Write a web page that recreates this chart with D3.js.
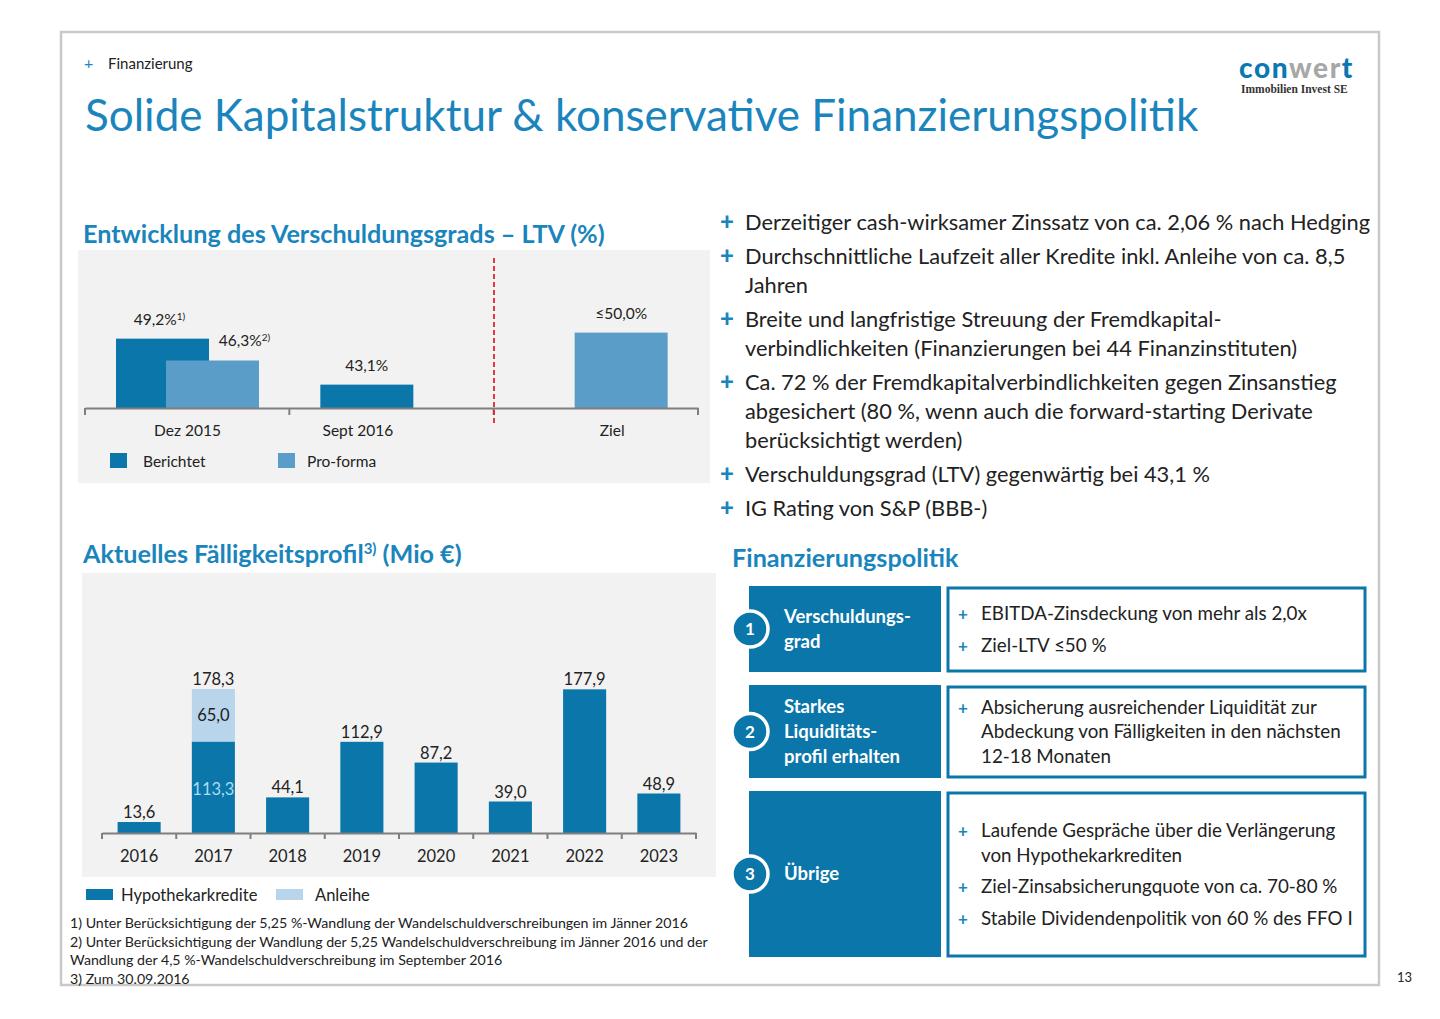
<!DOCTYPE html>
<html>
<head>
<meta charset="utf-8">
<script src="https://cdn.jsdelivr.net/npm/d3@7"></script>
<style>
  body { margin: 0; background: #fff; }
  text { font-family: Lato, "Open Sans", sans-serif; }
</style>
</head>
<body>
<script>
const W = 1440, H = 1019;
const blue = "#1a85bd", dark = "#0b76a9", proforma = "#5b9dc9", anleihe = "#b9d5eb", txt = "#222";

// LTV chart data
const ltvCats = ["Dez 2015", "Sept 2016", "Ziel"];
const ltvSeries = ["Berichtet", "Pro-forma"];
const ltvBerichtet = [49.2, 43.1, null];
const ltvProforma = [46.3, null, 50.0];
const ltvLabels = [["49,2%", "1)"], ["46,3%", "2)"], ["43,1%", ""], ["≤50,0%", ""]];

// maturity profile data
const years = ["2016", "2017", "2018", "2019", "2020", "2021", "2022", "2023"];
const hypo = [13.6, 113.3, 44.1, 112.9, 87.2, 39.0, 177.9, 48.9];
const anl = [0, 65.0, 0, 0, 0, 0, 0, 0];

const bullets = [
  ["Derzeitiger cash-wirksamer Zinssatz von ca. 2,06 % nach Hedging"],
  ["Durchschnittliche Laufzeit aller Kredite inkl. Anleihe von ca. 8,5", "Jahren"],
  ["Breite und langfristige Streuung der Fremdkapital-", "verbindlichkeiten (Finanzierungen bei 44 Finanzinstituten)"],
  ["Ca. 72 % der Fremdkapitalverbindlichkeiten gegen Zinsanstieg", "abgesichert (80 %, wenn auch die forward-starting Derivate", "berücksichtigt werden)"],
  ["Verschuldungsgrad (LTV) gegenwärtig bei 43,1 %"],
  ["IG Rating von S&P (BBB-)"]
];

const policy = [
  {num: "1", head: ["Verschuldungs-", "grad"], items: [["EBITDA-Zinsdeckung von mehr als 2,0x"], ["Ziel-LTV ≤50 %"]]},
  {num: "2", head: ["Starkes", "Liquiditäts-", "profil erhalten"], items: [["Absicherung ausreichender Liquidität zur", "Abdeckung von Fälligkeiten in den nächsten", "12-18 Monaten"]]},
  {num: "3", head: ["Übrige"], items: [["Laufende Gespräche über die Verlängerung", "von Hypothekarkrediten"], ["Ziel-Zinsabsicherungquote von ca. 70-80 %"], ["Stabile Dividendenpolitik von 60 % des FFO I"]]}
];

const footnotes = [
  "1) Unter Berücksichtigung der 5,25 %-Wandlung der Wandelschuldverschreibungen im Jänner 2016",
  "2) Unter Berücksichtigung der Wandlung der 5,25 Wandelschuldverschreibung im Jänner 2016 und der",
  "Wandlung der 4,5 %-Wandelschuldverschreibung im September 2016",
  "3) Zum 30.09.2016"
];

const svg = d3.select("body").append("svg").attr("width", W).attr("height", H);

// page frame
svg.append("rect").attr("x", 61).attr("y", 32).attr("width", 1318).attr("height", 953)
  .attr("fill", "#fff").attr("stroke", "#c9c9c9").attr("stroke-width", 2.5);

// header
svg.append("text").attr("x", 84).attr("y", 69).attr("fill", blue).attr("font-size", 16).text("+");
svg.append("text").attr("x", 108).attr("y", 69).attr("fill", txt).attr("font-size", 15).text("Finanzierung");
svg.append("text").attr("x", 85).attr("y", 131).attr("fill", blue).attr("font-size", 44)
  .text("Solide Kapitalstruktur & konservative Finanzierungspolitik");

// logo
const logo = svg.append("text").attr("x", 1239).attr("y", 78).attr("font-size", 28).attr("font-weight", 900)
  .attr("letter-spacing", 1.6);
logo.append("tspan").attr("fill", "#0b78b2").text("con");
logo.append("tspan").attr("fill", "#a7a7a7").text("wer");
logo.append("tspan").attr("fill", "#0b78b2").text("t");
svg.append("text").attr("x", 1241).attr("y", 93).attr("font-size", 11.5).attr("font-weight", 700)
  .style("font-family", "'Liberation Serif', serif").attr("fill", "#333").text("Immobilien Invest SE");
svg.append("text").attr("x", 1397).attr("y", 982).attr("font-size", 13).attr("fill", txt).text("13");

// ---- LTV chart ----
svg.append("text").attr("x", 83).attr("y", 243).attr("fill", blue).attr("font-size", 25.2).attr("font-weight", 700)
  .text("Entwicklung des Verschuldungsgrads – LTV (%)");
svg.append("rect").attr("x", 78).attr("y", 250).attr("width", 632).attr("height", 233).attr("fill", "#f2f2f2");

const lx = d3.scaleBand().domain(ltvCats).range([85, 698]);
const ly = d3.scaleLinear().domain([40, 50]).range([408, 332.6]);
const off = [31, 81], bw = 93;
const ltvVals = [ltvBerichtet, ltvProforma];
const ltvColors = [dark, proforma];
const lg = svg.append("g");
const ltvBars = [];
ltvVals.forEach((vals, s) => {
  vals.forEach((v, i) => {
    if (v == null) return;
    const x0 = lx(ltvCats[i]) + off[s];
    lg.append("rect").attr("x", x0).attr("y", ly(v)).attr("width", bw).attr("height", ly(40) - ly(v))
      .attr("fill", ltvColors[s]);
    ltvBars.push({s, i, x0, v});
  });
});
// value labels
const lblShift = [-3, 32, 0, 0];
ltvBars.sort((a, b) => a.i - b.i || a.s - b.s).forEach((b, k) => {
  const t = lg.append("text").attr("x", b.x0 + bw / 2 + lblShift[k]).attr("y", ly(b.v) - 14)
    .attr("text-anchor", "middle").attr("font-size", 15.5).attr("fill", txt);
  t.append("tspan").text(ltvLabels[k][0]);
  if (ltvLabels[k][1]) t.append("tspan").attr("font-size", 10).attr("dy", -5).text(ltvLabels[k][1]);
});
// axis
const la = svg.append("g").attr("transform", "translate(0,408)")
  .call(d3.axisBottom(lx).tickSize(0).tickFormat(""));
la.select(".domain").attr("stroke", "#7f7f7f").attr("stroke-width", 2);
lx.domain().concat([null]).forEach((c, i) => {
  const x = c == null ? 698 : lx(c);
  la.append("line").attr("x1", x).attr("x2", x).attr("y1", 0).attr("y2", 7).attr("stroke", "#7f7f7f").attr("stroke-width", 2);
});
// category labels centred under drawn bars
ltvCats.forEach((c, i) => {
  const bs = ltvBars.filter(b => b.i === i);
  const cx = (d3.min(bs, b => b.x0) + d3.max(bs, b => b.x0 + bw)) / 2 - (i === 0 ? 0 : 9);
  svg.append("text").attr("x", cx).attr("y", 436).attr("text-anchor", "middle").attr("font-size", 15.5)
    .attr("fill", txt).text(c);
});
svg.append("line").attr("x1", 494).attr("x2", 494).attr("y1", 258).attr("y2", 425)
  .attr("stroke", "#d9272e").attr("stroke-width", 1.8).attr("stroke-dasharray", "5,3");
// legend
[[110, 143], [278, 307]].forEach(([rx, tx], s) => {
  svg.append("rect").attr("x", rx).attr("y", 453).attr("width", 17).attr("height", 15).attr("fill", ltvColors[s]);
  svg.append("text").attr("x", tx).attr("y", 467).attr("font-size", 15.5).attr("fill", txt).text(ltvSeries[s]);
});

// ---- maturity chart ----
const t2 = svg.append("text").attr("x", 83).attr("y", 563).attr("fill", blue).attr("font-size", 25.2).attr("font-weight", 700);
t2.append("tspan").text("Aktuelles Fälligkeitsprofil");
t2.append("tspan").attr("font-size", 15).attr("dy", -9).text("3)");
t2.append("tspan").attr("dy", 9).text(" (Mio €)");
svg.append("rect").attr("x", 82).attr("y", 573).attr("width", 634).attr("height", 304).attr("fill", "#f2f2f2");

const mx = d3.scaleBand().domain(years).range([102, 696]).paddingInner(0.42).paddingOuter(0.21);
const my = d3.scaleLinear().domain([0, 178.3]).range([833, 689]);
const stack = d3.stack().keys(["h", "a"])(years.map((y, i) => ({h: hypo[i], a: anl[i]})));
const mg = svg.append("g");
stack.forEach((layer, s) => {
  mg.selectAll(null).data(layer).join("rect")
    .attr("x", (d, i) => mx(years[i])).attr("width", mx.bandwidth())
    .attr("y", d => my(d[1])).attr("height", d => my(d[0]) - my(d[1]))
    .attr("fill", s === 0 ? dark : anleihe);
});
// totals
mg.selectAll(null).data(years).join("text")
  .attr("x", y => mx(y) + mx.bandwidth() / 2)
  .attr("y", (y, i) => my(hypo[i] + anl[i]) - 4)
  .attr("text-anchor", "middle").attr("font-size", 16.5).attr("fill", txt)
  .text((y, i) => d3.format(".1f")(hypo[i] + anl[i]).replace(".", ","));
// segment labels for stacked year
years.forEach((y, i) => {
  if (!anl[i]) return;
  const cx = mx(y) + mx.bandwidth() / 2;
  mg.append("text").attr("x", cx).attr("y", my(hypo[i] + anl[i] / 2) + 6).attr("text-anchor", "middle")
    .attr("font-size", 16.5).attr("fill", txt).text(d3.format(".1f")(anl[i]).replace(".", ","));
  mg.append("text").attr("x", cx).attr("y", my(hypo[i] * 0.42)).attr("text-anchor", "middle")
    .attr("font-size", 16.5).attr("fill", "#a9dcf5").text(d3.format(".1f")(hypo[i]).replace(".", ","));
});
const ma = svg.append("g").attr("transform", "translate(0,833)")
  .call(d3.axisBottom(mx).tickSize(0).tickPadding(17));
ma.select(".domain").attr("stroke", "#7f7f7f").attr("stroke-width", 2);
ma.selectAll(".tick text").attr("font-size", 16.5).attr("fill", txt).style("font-family", "Lato, sans-serif");
d3.range(years.length + 1).forEach(k => {
  const x = 102 + k * (594 / years.length);
  ma.append("line").attr("x1", x).attr("x2", x).attr("y1", 0).attr("y2", 6).attr("stroke", "#7f7f7f").attr("stroke-width", 2);
});
[["Hypothekarkredite", dark, 86, 121], ["Anleihe", anleihe, 276, 315]].forEach(([n, c, rx, tx]) => {
  svg.append("rect").attr("x", rx).attr("y", 889).attr("width", 27).attr("height", 11).attr("fill", c);
  svg.append("text").attr("x", tx).attr("y", 901).attr("font-size", 16.5).attr("fill", txt).text(n);
});
footnotes.forEach((f, i) => {
  svg.append("text").attr("x", 70).attr("y", 928 + i * 18.7).attr("font-size", 14.2).attr("fill", txt).text(f);
});

// ---- right bullets ----
let by = 230;
bullets.forEach(lines => {
  svg.append("text").attr("x", 720).attr("y", by).attr("font-size", 24).attr("font-weight", 900).attr("fill", blue).text("+");
  lines.forEach((l, j) => {
    svg.append("text").attr("x", 745).attr("y", by + j * 29).attr("font-size", 21.8).attr("fill", txt).text(l);
  });
  by += lines.length * 29 + 5;
});
svg.append("text").attr("x", 732).attr("y", 567).attr("fill", blue).attr("font-size", 25.2).attr("font-weight", 700)
  .text("Finanzierungspolitik");

// ---- policy boxes ----
const boxes = [{y0: 586, y1: 672}, {y0: 685, y1: 778}, {y0: 791, y1: 957}];
policy.forEach((p, k) => {
  const b = boxes[k], h = b.y1 - b.y0, cy = b.y0 + h / 2;
  svg.append("rect").attr("x", 749).attr("y", b.y0).attr("width", 192).attr("height", h).attr("fill", dark);
  svg.append("rect").attr("x", 948).attr("y", b.y0 + 2).attr("width", 417).attr("height", h - 3)
    .attr("fill", "#fff").attr("stroke", dark).attr("stroke-width", 3);
  svg.append("circle").attr("cx", 750).attr("cy", cy).attr("r", 18).attr("fill", dark)
    .attr("stroke", "#fff").attr("stroke-width", 3.5);
  svg.append("text").attr("x", 750).attr("y", cy + 6).attr("text-anchor", "middle").attr("font-size", 17)
    .attr("font-weight", 700).attr("fill", "#fff").text(p.num);
  const hh = p.head.length;
  p.head.forEach((l, j) => {
    svg.append("text").attr("x", 784).attr("y", cy + 6 + (j - (hh - 1) / 2) * 25).attr("font-size", 18.5)
      .attr("font-weight", 700).attr("fill", "#fff").text(l);
  });
  // items
  const nLines = d3.sum(p.items, it => it.length);
  const gap = 7;
  const total = nLines * 24.5 + (p.items.length - 1) * gap;
  let iy = cy - total / 2 + 19;
  p.items.forEach(it => {
    svg.append("text").attr("x", 958).attr("y", iy).attr("font-size", 17).attr("font-weight", 700).attr("fill", blue).text("+");
    it.forEach((l, j) => {
      svg.append("text").attr("x", 981).attr("y", iy + j * 24.5).attr("font-size", 18.8).attr("fill", txt).text(l);
    });
    iy += it.length * 24.5 + gap;
  });
});
</script>
</body>
</html>
